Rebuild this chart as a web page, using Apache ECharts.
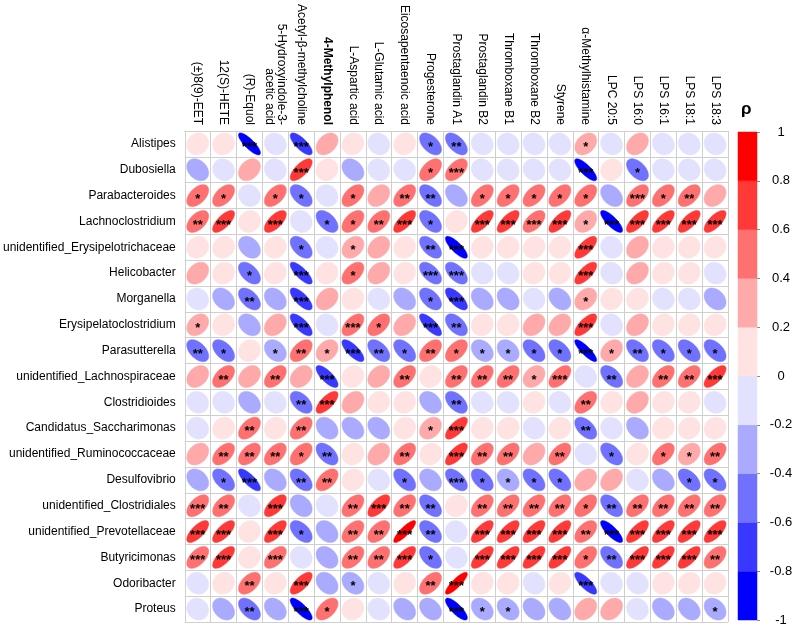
<!DOCTYPE html>
<html>
<head>
<meta charset="utf-8">
<script src="https://cdn.jsdelivr.net/npm/echarts@6/dist/echarts.min.js"></script>
<style>html,body{margin:0;padding:0;background:#fff;}#chart{width:800px;height:633px;}</style>
</head>
<body>
<div id="chart"></div>
<script>
// ---------- DATA ----------
const rowLabels = ["Alistipes","Dubosiella","Parabacteroides","Lachnoclostridium","unidentified_Erysipelotrichaceae","Helicobacter","Morganella","Erysipelatoclostridium","Parasutterella","unidentified_Lachnospiraceae","Clostridioides","Candidatus_Saccharimonas","unidentified_Ruminococcaceae","Desulfovibrio","unidentified_Clostridiales","unidentified_Prevotellaceae","Butyricimonas","Odoribacter","Proteus"];
const colLabels = ["(±)8(9)-EET","12(S)-HETE","(R)-Equol","5-Hydroxyindole-3-\nacetic acid","Acetyl-β-methylcholine","4-Methylphenol","L-Aspartic acid","L-Glutamic acid","Eicosapentaenoic acid","Progesterone","Prostaglandin A1","Prostaglandin B2","Thromboxane B1","Thromboxane B2","Styrene","α-Methylhistamine","LPC 20:5","LPS 16:0","LPS 16:1","LPS 18:1","LPS 18:3"];
const boldColumns = ["4-Methylphenol"];
const rho = [
 [0.1,0.1,-0.82,-0.1,-0.75,0.35,0.1,-0.1,0.1,-0.5,-0.55,-0.1,-0.1,-0.1,-0.1,0.32,-0.1,0.3,-0.1,-0.1,-0.1],
 [-0.3,-0.1,0.3,-0.1,0.7,0.1,-0.3,-0.1,-0.1,0.5,0.52,-0.1,-0.1,-0.1,-0.1,-0.8,0.1,-0.5,-0.1,-0.1,-0.1],
 [0.5,0.5,-0.1,0.5,-0.5,-0.1,0.5,0.3,0.5,-0.52,-0.35,0.5,0.5,0.5,0.5,0.5,-0.35,0.52,0.5,0.5,0.3],
 [0.5,0.7,0.1,0.65,-0.1,-0.5,0.5,0.5,0.7,-0.5,0.1,0.7,0.7,0.55,0.7,0.3,-0.8,0.7,0.7,0.7,0.7],
 [0.1,0.1,-0.3,0.1,-0.5,-0.1,0.3,0.3,0.1,-0.55,-0.8,0.1,0.1,0.1,0.1,0.7,-0.1,0.3,0.1,0.1,0.1],
 [0.3,0.1,-0.5,0.1,-0.78,0.1,0.5,0.3,0.1,-0.55,-0.55,-0.1,-0.1,0.1,0.1,0.7,-0.1,0.3,0.1,0.1,-0.1],
 [-0.1,-0.3,-0.5,-0.3,-0.72,0.3,0.1,-0.1,-0.3,-0.5,-0.7,-0.3,-0.3,-0.1,-0.3,0.3,0.1,0.1,-0.1,-0.1,-0.3],
 [0.3,0.1,-0.3,0.3,-0.72,-0.1,0.55,0.5,0.3,-0.75,-0.5,0.1,0.1,0.3,0.3,0.7,-0.1,0.3,0.1,0.1,0.1],
 [-0.5,-0.5,0.1,-0.3,0.5,0.3,-0.75,-0.5,-0.5,0.5,0.5,-0.3,-0.3,-0.5,-0.5,-0.85,0.3,-0.5,-0.5,-0.5,-0.5],
 [0.3,0.5,0.3,0.5,0.3,-0.75,0.1,0.3,0.5,0.1,0.5,0.5,0.5,0.3,0.55,-0.1,-0.5,0.3,0.5,0.5,0.7],
 [-0.1,-0.1,-0.3,-0.1,-0.5,0.7,0.3,0.1,0.1,-0.3,-0.5,-0.1,-0.1,0.1,-0.1,0.5,0.1,0.3,0.1,0.1,-0.1],
 [-0.1,0.1,0.5,0.1,0.5,-0.3,-0.3,-0.3,0.1,0.3,0.7,0.1,0.1,-0.1,0.1,-0.5,-0.1,-0.3,0.1,0.1,0.1],
 [0.3,0.5,0.5,0.5,0.5,-0.5,0.1,0.3,0.5,0.1,0.7,0.5,0.5,0.3,0.5,-0.1,-0.5,0.1,0.5,0.3,0.5],
 [-0.3,-0.5,-0.78,-0.3,-0.5,0.5,0.1,-0.1,-0.5,-0.3,-0.55,-0.5,-0.3,-0.5,-0.5,0.3,0.3,-0.1,-0.3,-0.5,-0.5],
 [0.55,0.5,-0.1,0.65,-0.3,-0.1,0.5,0.65,0.5,-0.5,0.1,0.5,0.5,0.5,0.5,0.5,-0.5,0.5,0.5,0.5,0.5],
 [0.7,0.7,0.1,0.7,-0.5,-0.3,0.5,0.5,0.85,-0.5,-0.1,0.7,0.7,0.7,0.7,0.5,-0.8,0.7,0.7,0.7,0.7],
 [0.55,0.7,0.1,0.55,-0.1,-0.3,0.5,0.5,0.7,-0.5,-0.1,0.7,0.7,0.7,0.7,0.5,-0.5,0.7,0.7,0.7,0.5],
 [-0.1,0.1,0.5,0.1,0.7,-0.3,-0.3,-0.1,0.1,0.5,0.85,0.1,0.1,-0.1,0.1,-0.78,-0.1,-0.1,0.1,0.1,0.1],
 [-0.1,-0.3,-0.5,-0.3,-0.8,0.5,0.1,-0.1,-0.3,-0.3,-0.8,-0.3,-0.3,-0.3,-0.3,0.3,0.3,-0.1,-0.3,-0.3,-0.3]
];
// significance level: 0 none, 1 *, 2 **, 3 ***
const sig = [
 [0,0,3,0,3,0,0,0,0,1,2,0,0,0,0,1,0,0,0,0,0],
 [0,0,0,0,3,0,0,0,0,1,3,0,0,0,0,3,0,1,0,0,0],
 [1,1,0,1,1,0,1,0,2,2,0,1,1,1,1,1,0,3,1,2,0],
 [2,3,0,3,0,1,1,2,3,1,0,3,3,3,3,1,3,3,3,3,3],
 [0,0,0,0,1,0,1,0,0,2,3,0,0,0,0,3,0,0,0,0,0],
 [0,0,1,0,3,0,1,0,0,3,3,0,0,0,0,3,0,0,0,0,0],
 [0,0,2,0,3,0,0,0,0,1,3,0,0,0,0,1,0,0,0,0,0],
 [1,0,0,0,3,0,3,1,0,3,2,0,0,0,0,3,0,0,0,0,0],
 [2,1,0,1,2,1,3,2,1,2,1,1,1,1,1,3,1,2,1,1,1],
 [0,2,0,2,0,3,0,0,2,0,2,2,2,1,3,0,2,0,2,2,3],
 [0,0,0,0,2,3,0,0,0,0,2,0,0,0,0,2,0,0,0,0,0],
 [0,0,2,0,2,0,0,0,0,1,3,0,0,0,0,2,0,0,0,0,0],
 [0,2,2,2,1,2,0,0,2,0,3,2,2,0,2,0,1,0,1,1,2],
 [0,1,3,0,2,2,0,0,1,0,3,1,1,1,1,0,0,0,0,1,1],
 [3,2,0,3,0,0,2,3,2,2,0,2,2,2,2,1,2,2,2,2,2],
 [3,3,0,3,1,0,2,2,3,2,0,3,3,3,3,2,3,3,3,3,3],
 [3,3,0,3,0,0,2,2,3,1,0,3,3,3,3,1,2,3,3,3,2],
 [0,0,2,0,3,0,1,0,0,2,3,0,0,0,0,3,0,0,0,0,0],
 [0,0,2,0,3,1,0,0,0,0,3,1,1,0,0,0,0,0,0,0,1]
];
const binEdges = [-1,-0.8,-0.6,-0.4,-0.2,0,0.2,0.4,0.6,0.8,1];
const binColors = ['#0000FF','#3838FF','#7171FF','#AAAAFF','#E2E2FF','#FFE2E2','#FFAAAA','#FF7171','#FF3838','#FF0000'];
const starText = ['', '*', '**', '***'];

// ---------- BUILD ----------
function colorFor(v) {
  let i = Math.floor((v + 1) / 0.2);
  if (i < 0) i = 0; if (i > 9) i = 9;
  return binColors[i];
}
const cellData = [];
for (let r = 0; r < rowLabels.length; r++) {
  for (let c = 0; c < colLabels.length; c++) {
    cellData.push([c, r, rho[r][c], sig[r][c]]);
  }
}
const barData = [];
for (let i = 0; i < binColors.length; i++) barData.push([0, binEdges[i], binEdges[i+1], i]);

const FONT = "'Liberation Sans', Arial, Helvetica, sans-serif";
const xData = colLabels.map(function (l) {
  const item = { value: l, textStyle: {} };
  if (boldColumns.indexOf(l) >= 0) item.textStyle.fontWeight = 'bold';
  if (l.indexOf('\n') >= 0) { item.textStyle.padding = [12, 0, 0, 0]; }
  return item;
});

function renderEllipse(params, api) {
  const c = api.value(0), r = api.value(1), v = api.value(2), s = api.value(3);
  const ctr = api.coord([c, r]);
  const sz = api.size([1, 1]);
  const w = sz[0] * 0.85, h = sz[1] * 0.85;
  const a = Math.acos(Math.max(-1, Math.min(1, v)));
  const pts = [];
  for (let k = 0; k < 100; k++) {
    const t = 2 * Math.PI * k / 100;
    const x = Math.cos(t + a / 2) / 2;
    const y = Math.cos(t - a / 2) / 2;
    pts.push([ctr[0] + x * w, ctr[1] - y * h]);
  }
  const col = colorFor(v);
  const children = [{
    type: 'polygon', shape: { points: pts },
    style: { fill: col, stroke: col, lineWidth: 0.5 }
  }];
  if (s > 0) {
    children.push({
      type: 'text',
      style: { text: starText[s], x: ctr[0], y: ctr[1] + 3.5, align: 'center', verticalAlign: 'middle',
               fontSize: 13, fontWeight: 'bold', fontFamily: FONT, fill: '#000' }
    });
  }
  return { type: 'group', children: children };
}

function renderBar(params, api) {
  const top = api.coord([0, api.value(2)]);
  const bot = api.coord([0, api.value(1)]);
  const bw = api.size([1, 0])[0];
  return {
    type: 'rect',
    shape: { x: top[0] - bw / 2, y: top[1], width: bw, height: bot[1] - top[1] },
    style: { fill: binColors[api.value(3)], stroke: binColors[api.value(3)], lineWidth: 0.5 }
  };
}

const chart = echarts.init(document.getElementById('chart'), null, { renderer: 'canvas' });
chart.setOption({
  animation: false,
  backgroundColor: '#ffffff',
  textStyle: { fontFamily: FONT },
  grid: [
    { left: 184, top: 131, width: 544, height: 491, containLabel: false },
    { left: 738, top: 132, width: 19, height: 488, containLabel: false }
  ],
  xAxis: [
    {
      gridIndex: 0, type: 'category', position: 'top', data: xData,
      axisLabel: { rotate: 90, interval: 0, fontSize: 12, color: '#000', margin: 6, fontFamily: FONT },
      axisTick: { show: false },
      axisLine: { show: true, lineStyle: { color: '#cfcfcf', width: 1 } },
      splitLine: { show: true, interval: 0, lineStyle: { color: '#cfcfcf', width: 1 } }
    },
    { gridIndex: 1, type: 'category', data: ['bar'], show: false }
  ],
  yAxis: [
    {
      gridIndex: 0, type: 'category', inverse: true, data: rowLabels,
      axisLabel: { interval: 0, fontSize: 12, color: '#000', margin: 9, fontFamily: FONT },
      axisTick: { show: false },
      axisLine: { show: true, lineStyle: { color: '#cfcfcf', width: 1 } },
      splitLine: { show: true, interval: 0, lineStyle: { color: '#cfcfcf', width: 1 } }
    },
    {
      gridIndex: 1, type: 'value', position: 'right', min: -1, max: 1, interval: 0.2,
      axisLine: { show: false },
      axisTick: { show: true, length: 3, inside: false, lineStyle: { color: '#888' } },
      splitLine: { show: false },
      axisLabel: { fontSize: 13, color: '#000', margin: 24, align: 'center', fontFamily: FONT }
    }
  ],
  graphic: [
    { type: 'text', left: 741, top: 101, style: { text: 'ρ', fontSize: 17, fontWeight: 'bold', fill: '#000', fontFamily: FONT } }
  ],
  series: [
    { type: 'custom', xAxisIndex: 0, yAxisIndex: 0, data: cellData, renderItem: renderEllipse, silent: true },
    { type: 'custom', xAxisIndex: 1, yAxisIndex: 1, data: barData, renderItem: renderBar, silent: true }
  ]
});
</script>
</body>
</html>
